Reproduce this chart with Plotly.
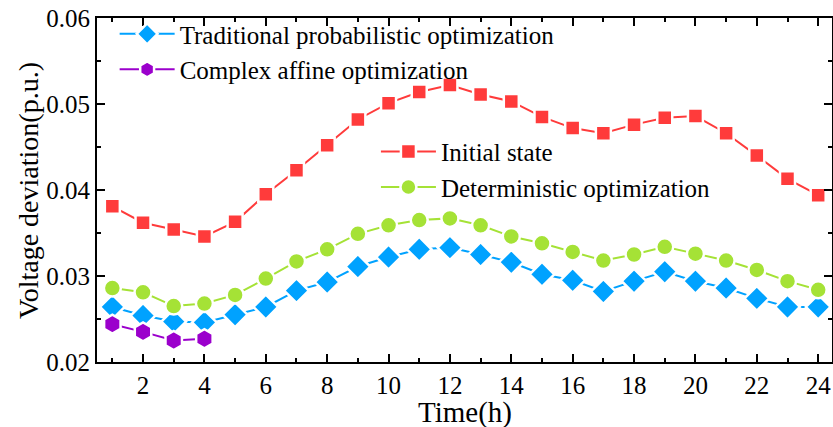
import plotly.graph_objects as go

hours = list(range(1, 25))
initial_state = [0.0381, 0.0362, 0.0354, 0.0346, 0.0363, 0.0395, 0.0423, 0.0452, 0.0482, 0.0501,
                 0.0514, 0.0522, 0.0511, 0.0503, 0.0485, 0.0472, 0.0466, 0.0476, 0.0484, 0.0486,
                 0.0466, 0.0440, 0.0413, 0.0394]
deterministic = [0.0286, 0.0281, 0.0265, 0.0268, 0.0278, 0.0297, 0.0317, 0.0331, 0.0349, 0.0359,
                 0.0365, 0.0367, 0.0359, 0.0346, 0.0338, 0.0328, 0.0318, 0.0325, 0.0334, 0.0326,
                 0.0318, 0.0307, 0.0294, 0.0284]
traditional = [0.0264, 0.0254, 0.0247, 0.0246, 0.0255, 0.0264, 0.0283, 0.0293, 0.0311, 0.0322,
               0.0331, 0.0333, 0.0325, 0.0316, 0.0302, 0.0295, 0.0282, 0.0294, 0.0305, 0.0294,
               0.0286, 0.0274, 0.0264, 0.0264]
affine_hours = [1, 2, 3, 4]
complex_affine = [0.0244, 0.0235, 0.0225, 0.0227]

y_ticks = [0.02, 0.03, 0.04, 0.05, 0.06]
y_labels = ["0.02", "0.03", "0.04", "0.05", "0.06"]
x_ticks = [2, 4, 6, 8, 10, 12, 14, 16, 18, 20, 22, 24]
x_title = "Time(h)"
y_title = "Voltage deviation(p.u.)"

FONT = "Liberation Serif"
WHITE = "white"

fig = go.Figure()
fig.add_trace(go.Scatter(x=hours, y=traditional, mode="lines+markers",
                         name="Traditional probabilistic optimization", legend="legend",
                         line=dict(color="#00A2FF", width=2),
                         marker=dict(symbol="diamond", size=19, color="#00A2FF",
                                     line=dict(color=WHITE, width=2.5))))
fig.add_trace(go.Scatter(x=affine_hours, y=complex_affine, mode="lines+markers",
                         name="Complex affine optimization", legend="legend",
                         line=dict(color="#9B00CC", width=2),
                         marker=dict(symbol="hexagon", size=19, color="#9B00CC",
                                     line=dict(color=WHITE, width=2.5))))
fig.add_trace(go.Scatter(x=hours, y=initial_state, mode="lines+markers",
                         name="Initial state", legend="legend2",
                         line=dict(color="#FF3B3B", width=2),
                         marker=dict(symbol="square", size=15, color="#FF3B3B",
                                     line=dict(color=WHITE, width=2.5))))
fig.add_trace(go.Scatter(x=hours, y=deterministic, mode="lines+markers",
                         name="Deterministic optimization", legend="legend2",
                         line=dict(color="#A5E236", width=2),
                         marker=dict(symbol="circle", size=17, color="#A5E236",
                                     line=dict(color=WHITE, width=2.5))))

axis_common = dict(showline=True, linecolor="black", linewidth=2, mirror="ticks",
                   ticks="inside", ticklen=8, tickwidth=2, tickcolor="black",
                   showgrid=False, zeroline=False, automargin=False,
                   tickfont=dict(family=FONT, size=25, color="black"))

fig.update_xaxes(range=[0.5, 24.45], tickvals=x_ticks,
                 minor=dict(ticks="inside", ticklen=4, tickwidth=2, tickcolor="black", dtick=1, tick0=1),
                 **axis_common)
fig.update_yaxes(range=[0.02, 0.06], tickvals=y_ticks, ticktext=y_labels,
                 minor=dict(ticks="inside", ticklen=4, tickwidth=2, tickcolor="black", dtick=0.005, tick0=0.02),
                 **axis_common)

fig.add_annotation(text=x_title, xref="paper", yref="paper", x=0.5, y=-0.146,
                   xanchor="center", yanchor="middle", showarrow=False,
                   font=dict(family=FONT, size=29, color="black"))
fig.add_annotation(text=y_title, xref="paper", yref="paper", x=-0.094, y=0.5,
                   xanchor="center", yanchor="middle", textangle=-90, showarrow=False,
                   font=dict(family=FONT, size=28, color="black"))

legend_common = dict(bgcolor="rgba(0,0,0,0)", borderwidth=0,
                     font=dict(family=FONT, size=25, color="black"),
                     itemwidth=55, tracegroupgap=0, xanchor="left", yanchor="top")

fig.update_layout(
    width=833, height=427,
    margin=dict(l=97, r=1, t=18, b=65),
    paper_bgcolor="white", plot_bgcolor="white",
    showlegend=True,
    legend=dict(x=0.024, y=1.02, **legend_common),
    legend2=dict(x=0.3795, y=0.678, **legend_common),
)

fig.write_html("out.html", config={"displayModeBar": False},
               post_script="document.body.style.margin='0';document.body.style.overflow='hidden';")
